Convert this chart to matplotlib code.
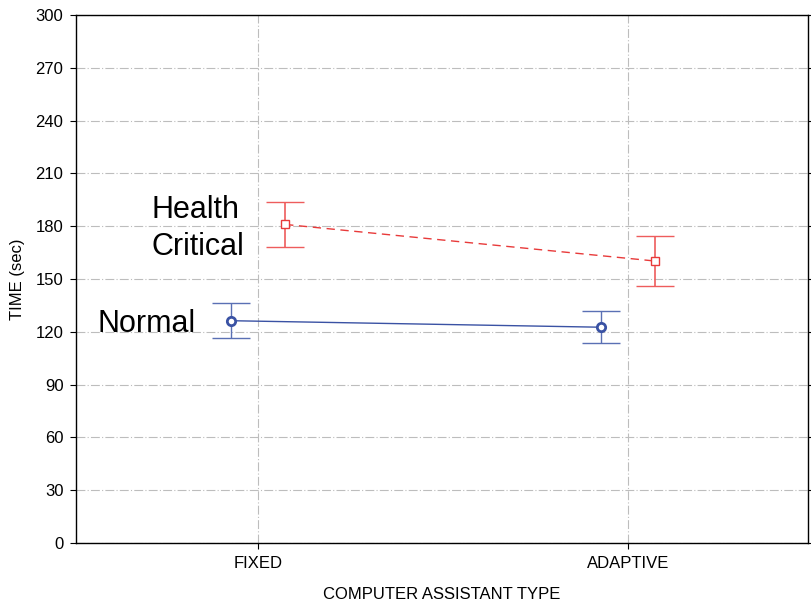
import numpy as np
import matplotlib
matplotlib.use("Agg")
import matplotlib.pyplot as plt

plt.rcParams['font.family'] = ['Liberation Sans', 'DejaVu Sans']

categories = ["FIXED", "ADAPTIVE"]
normal_mean = [126.3, 122.6]
normal_err = [10.0, 9.0]
health_mean = [181.0, 160.2]
health_err = [12.7, 14.1]
y_ticks = [0, 30, 60, 90, 120, 150, 180, 210, 240, 270, 300]

x = np.arange(len(categories))
off = 0.073

fig = plt.figure(figsize=(8.11, 6.05), dpi=100)
ax = fig.add_axes([76 / 811, 62 / 605, 732 / 811, 528 / 605])

# grid
ax.set_axisbelow(True)
ax.grid(True, color="#bdbdbd", linestyle=(0, (8, 2, 1, 2)), linewidth=0.8)

# normal series
_, caps, _ = ax.errorbar(x - off, normal_mean, yerr=normal_err, color="#3a52a4",
                         ecolor="#5a70b4", elinewidth=1.0, capsize=13.5,
                         linewidth=1.0, marker="o", markersize=6,
                         markerfacecolor="white", markeredgewidth=2.0,
                         markeredgecolor="#3a52a4")
for c in caps:
    c.set_markeredgewidth(1.0)

# health critical series
_, caps, _ = ax.errorbar(x + off, health_mean, yerr=health_err, color="#e83a3a",
                         ecolor="#ee5c5c", elinewidth=1.2, capsize=13.5,
                         linewidth=1.0, linestyle=(0, (6, 4)), marker="s",
                         markersize=6, markerfacecolor="white",
                         markeredgewidth=1.0, markeredgecolor="#e83a3a")
for c in caps:
    c.set_markeredgewidth(1.0)

ax.text(-0.289, 184.7, "Health", fontsize=22, va="baseline", ha="left")
ax.text(-0.289, 163.6, "Critical", fontsize=22, va="baseline", ha="left")
ax.text(-0.433, 120.1, "Normal", fontsize=22, va="baseline", ha="left")

ax.set_xlim(-0.492, 1.486)
ax.set_ylim(0, 300)
ax.set_yticks(y_ticks)
ax.set_xticks(x)
ax.set_xticklabels(categories, fontsize=12)
ax.tick_params(axis="y", labelsize=12, direction="out", length=4,
               right=True, width=0.8, pad=5)
ax.tick_params(axis="x", direction="out", length=4, width=0.8, pad=5)
for s in ax.spines.values():
    s.set_linewidth(1.0)

ax.set_ylabel("TIME (sec)", fontsize=12, labelpad=8)
ax.set_xlabel("COMPUTER ASSISTANT TYPE", fontsize=12, labelpad=12)

fig.savefig("out.png", dpi=100)
